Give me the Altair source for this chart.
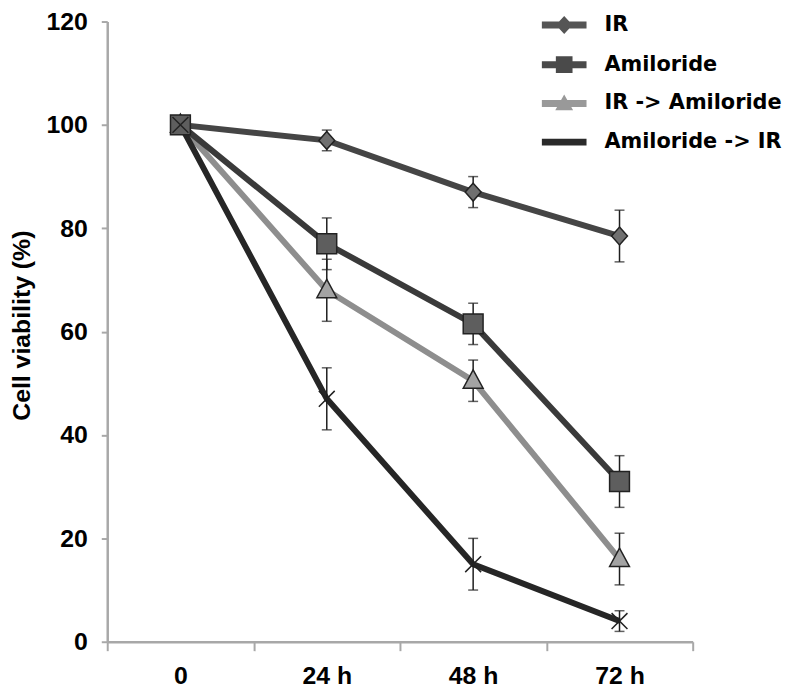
import altair as alt
import pandas as pd

# ---------------- data ----------------
times = ["0", "24 h", "48 h", "72 h"]
series = ["IR", "Amiloride", "IR -> Amiloride", "Amiloride -> IR"]

ir_vals = [100, 97, 87, 78.5]
ir_err = [0, 2, 3, 5]
amil_vals = [100, 77, 61.5, 31]
amil_err = [0, 5, 4, 5]
ir_amil_vals = [100, 68, 50.5, 16]
ir_amil_err = [0, 6, 4, 5]
amil_ir_vals = [100, 47, 15, 4]
amil_ir_err = [0, 6, 5, 2]

y_ticks = [0, 20, 40, 60, 80, 100, 120]

# ---------------- styles ----------------
line_colors = ["#454545", "#3a3a3a", "#8e8e8e", "#262626"]
fill_colors = ["#707070", "#5e5e5e", "#a3a3a3", "#262626"]
legend_colors = ["#555555", "#4a4a4a", "#999999", "#2a2a2a"]
plot_shapes = [
    "M0,-0.9L0.8,0L0,0.9L-0.8,0Z",
    "M-1,-1L1,-1L1,1L-1,1Z",
    "M0,-1.1L1,0.75L-1,0.75Z",
    "M-0.8,-0.8L0.8,0.8M-0.8,0.8L0.8,-0.8",
]
bar = "M-1.125,-0.175L1.125,-0.175L1.125,0.175L-1.125,0.175Z"
legend_shapes = [
    bar + "M0,-0.45L0.42,0L0,0.45L-0.42,0Z",
    bar + "M-0.42,-0.42L0.42,-0.42L0.42,0.42L-0.42,0.42Z",
    bar + "M0,-0.45L0.45,0.35L-0.45,0.35Z",
    bar + "M-0.35,-0.35L0.35,0.35M-0.35,0.35L0.35,-0.35",
]

values = {
    "IR": (ir_vals, ir_err),
    "Amiloride": (amil_vals, amil_err),
    "IR -> Amiloride": (ir_amil_vals, ir_amil_err),
    "Amiloride -> IR": (amil_ir_vals, amil_ir_err),
}
draw_order = ["IR -> Amiloride", "IR", "Amiloride", "Amiloride -> IR"]

rows = []
for s in draw_order:
    v_list, e_list = values[s]
    for t, v, e in zip(times, v_list, e_list):
        rows.append({"series": s, "time": t, "value": v,
                     "lo": v - e, "hi": v + e, "err": e})
df = pd.DataFrame(rows)

FONT = "Liberation Sans"

x_enc = alt.X(
    "time:N", sort=times,
    scale=alt.Scale(type="band", paddingInner=0, paddingOuter=0),
    axis=alt.Axis(title=None, tickBand="extent", labelAngle=0, tickSize=9,
                  labelPadding=13, labelFontSize=25, labelFont=FONT,
                  labelFontWeight="bold", labelColor="black",
                  domainColor="#a8a8a8", domainWidth=2.5,
                  tickColor="#a8a8a8", tickWidth=2, grid=False),
)

y_axis = alt.Axis(
    title="Cell viability (%)", values=y_ticks, tickSize=6, labelPadding=14,
    labelFontSize=25, labelFont=FONT, labelFontWeight="bold",
    labelColor="black", domainColor="#a8a8a8", domainWidth=2.5,
    tickColor="#a8a8a8", tickWidth=2, grid=False,
    titleFont=FONT, titleFontSize=25, titleFontWeight="bold",
    titleColor="black", titleAngle=270, titleX=-78, titleY=306,
    titleAlign="center", titleBaseline="alphabetic",
)
y_scale = alt.Scale(domain=[0, 120], nice=False)

legend = alt.Legend(
    title=None, orient="none", legendX=440, legendY=-17,
    symbolSize=1600, labelFont="DejaVu Sans", labelFontWeight="bold",
    labelFontSize=21, labelColor="black", labelOffset=20, rowPadding=8,
    padding=0, symbolStrokeColor="#222222", symbolStrokeWidth=1,
    symbolOpacity=1, labelLimit=300,
)

base = alt.Chart(df)

lines = base.mark_line(strokeWidth=6).encode(
    x=x_enc,
    y=alt.Y("value:Q", scale=y_scale, axis=y_axis),
    color=alt.Color("series:N", scale=alt.Scale(domain=series, range=line_colors), legend=None),
    detail="series:N",
)

err = base.transform_filter("datum.err > 0")
rules = err.mark_rule(color="#1e1e1e", strokeWidth=1.5).encode(
    x=x_enc,
    y=alt.Y("lo:Q", scale=y_scale, axis=y_axis),
    y2="hi:Q",
)
caps_lo = err.mark_tick(color="#1e1e1e", thickness=1.5, size=10, orient="horizontal").encode(
    x=x_enc, y=alt.Y("lo:Q", scale=y_scale, axis=y_axis))
caps_hi = err.mark_tick(color="#1e1e1e", thickness=1.5, size=10, orient="horizontal").encode(
    x=x_enc, y=alt.Y("hi:Q", scale=y_scale, axis=y_axis))

points = base.mark_point(filled=True, size=400, stroke="#222222",
                         strokeWidth=1.5, opacity=1).encode(
    x=x_enc,
    y=alt.Y("value:Q", scale=y_scale, axis=y_axis),
    fill=alt.Fill("series:N", scale=alt.Scale(domain=series, range=fill_colors), legend=None),
    shape=alt.Shape("series:N", scale=alt.Scale(domain=series, range=plot_shapes), legend=None),
)

# legend-only layer (no rows drawn; the legend comes from its scales)
legend_layer = base.transform_filter("false").mark_point(
    filled=True, size=1600, stroke="#222222", strokeWidth=1, opacity=1).encode(
    x=x_enc,
    y=alt.Y("value:Q", scale=y_scale, axis=y_axis),
    fill=alt.Fill("series:N", scale=alt.Scale(domain=series, range=legend_colors), legend=legend),
    shape=alt.Shape("series:N", scale=alt.Scale(domain=series, range=legend_shapes), legend=legend),
)

chart = alt.layer(lines, rules, caps_lo, caps_hi, points, legend_layer).resolve_scale(
    shape="independent", fill="independent"
).properties(
    width=590, height=625,
    padding={"left": 100, "top": 11, "right": 91, "bottom": 47},
    autosize=alt.AutoSizeParams(type="none"),
    background="white",
).configure_view(stroke=None)

chart.save("out.html", embed_options={"renderer": "svg", "actions": False})
